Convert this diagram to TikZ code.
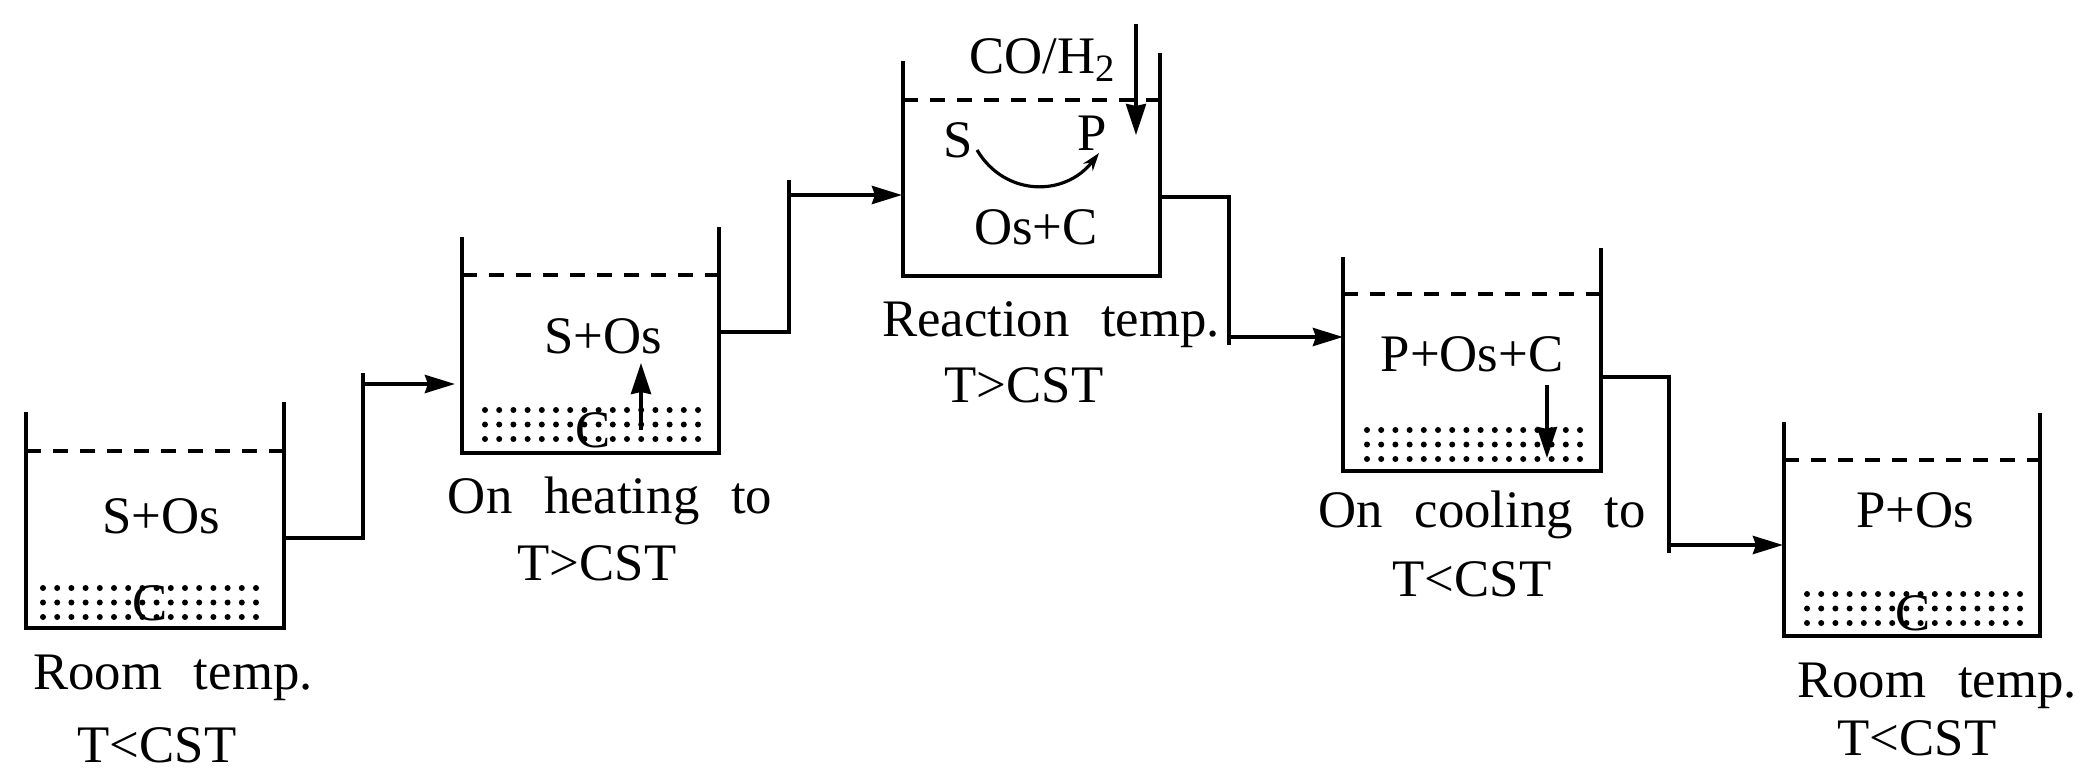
\documentclass[tikz,border=0pt]{standalone}
\usepackage{fontspec}
\setmainfont{Liberation Serif}
\usetikzlibrary{arrows.meta}
\tikzset{
  wall/.style={line width=1.15pt},
  level/.style={line width=1.15pt,dash pattern=on 0.15cm off 0.12cm},
  pipe/.style={line width=1.15pt},
  feed/.style={line width=1.15pt,-{Stealth[length=0.3cm,width=0.18cm,inset=0.03cm]}},
  drop/.style={line width=1pt,-{Stealth[length=0.31cm,width=0.2cm,inset=0.02cm]}},
  txt/.style={inner sep=0pt,font=\fontsize{15}{18}\selectfont}
}
\newcommand{\gap}{\hspace{0.6em}}
% left, right, top of left wall, top of right wall, liquid level, bottom
\newcommand{\tank}[6]{%
  \draw[wall](#1,#3)--(#1,#6)--(#2,#6)--(#2,#4);
  \draw[level](#1,#5)--(#2,#5);
}
\begin{document}
\begin{tikzpicture}[x=0.01cm,y=-0.01cm]
\useasboundingbox (0,0) rectangle (2079,770);
\tank{26}{284}{412}{402}{451}{628}
\tank{462}{719}{237}{227}{275}{453}
\tank{903}{1160}{61}{53}{100}{276}
\tank{1343}{1601}{257}{248}{294}{471}
\tank{1784}{2040}{422}{413}{460}{636}
\foreach \xa/\ya in {43/588,485/410,1367/430,1807/594}{
  \foreach \i in {0,...,15}\foreach \j in {0,1,2}
    \fill(\xa+14.2*\i,\ya+14.5*\j)circle(0.03cm);
}
\coordinate (out1) at (284,538);
\coordinate (top1) at (363,373);
\coordinate (in2) at (455,384);
\coordinate (out2) at (719,332);
\coordinate (top2) at (789,180);
\coordinate (in3) at (902,195);
\coordinate (out3) at (1160,197);
\coordinate (top3) at (1229,345);
\coordinate (in4) at (1343,337);
\coordinate (out4) at (1601,377);
\coordinate (top4) at (1669,553);
\coordinate (in5) at (1783,545);
\draw[pipe](out1)-|(top1);
\draw[feed](top1|-in2)--(in2);
\draw[pipe](out2)-|(top2);
\draw[feed](top2|-in3)--(in3);
\draw[pipe](out3)-|(top3);
\draw[feed](top3|-in4)--(in4);
\draw[pipe](out4)-|(top4);
\draw[feed](top4|-in5)--(in5);
\node[txt] (mix1) at (161,516) {S+Os};
\node[txt] (cat1) at (150,603) {C};
\node[txt] (lab1) at (173,678) {Room\gap temp.};
\node[txt] (cst1) at (157,745) {T<CST};
\node[txt] (mix2) at (603,336) {S+Os};
\node[txt] (cat2) at (593,430) {C};
\node[txt] (lab2) at (610,501) {On\gap heating\gap to};
\node[txt] (cst2) at (597,563) {T>CST};
\node[txt] (gas3) at (1042,60) {CO/H\raisebox{-0.35ex}{\fontsize{11}{11}\selectfont 2}};
\node[txt] (sub3) at (958,140) {S};
\node[txt] (pro3) at (1092,133) {P};
\node[txt] (mix3) at (1036,227) {Os+C};
\node[txt] (lab3) at (1051,325) {Reaction\gap temp.};
\node[txt] (cst3) at (1024,385) {T>CST};
\node[txt] (mix4) at (1472,354) {P+Os+C};
\node[txt] (lab4) at (1482,515) {On\gap cooling\gap to};
\node[txt] (cst4) at (1472,579) {T<CST};
\node[txt] (mix5) at (1915,510) {P+Os};
\node[txt] (cat5) at (1913,613) {C};
\node[txt] (lab5) at (1937,686) {Room\gap temp.};
\node[txt] (cst5) at (1917,738) {T<CST};
\coordinate (gasin) at (1136,24);
\coordinate (gasend) at (1136,135);
\draw[drop](gasin)--(gasend);
\coordinate (up1) at (641,430);
\coordinate (up2) at (641,363);
\draw[drop](up1)--(up2);
\coordinate (dn1) at (1547,385);
\coordinate (dn2) at (1547,458);
\draw[drop](dn1)--(dn2);
\coordinate (arc1) at (977,150);
\coordinate (arc2) at (1099,153);
\draw[line width=0.9pt,-{Stealth[length=0.18cm,width=0.12cm]}](arc1)..controls (1005,197) and (1065,197)..(arc2);
\end{tikzpicture}
\end{document}
